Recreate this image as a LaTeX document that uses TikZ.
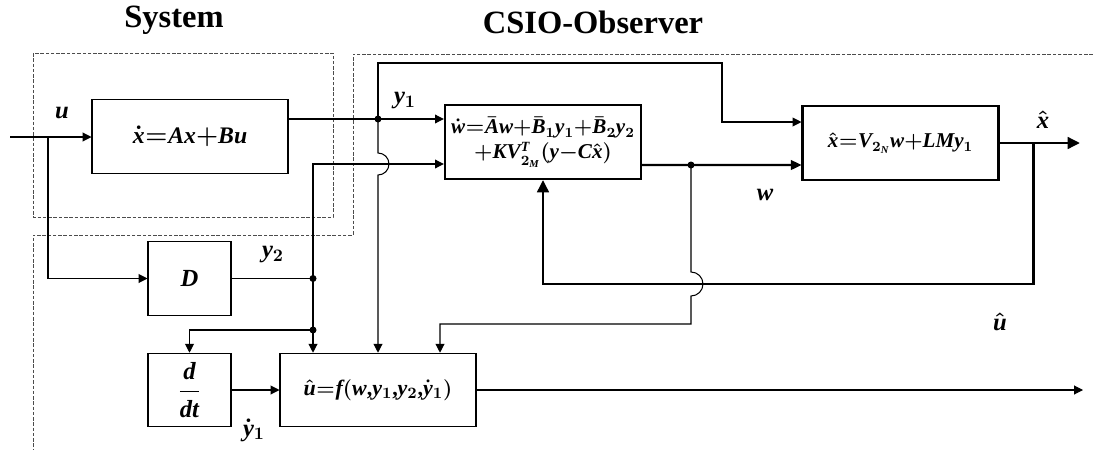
\documentclass[tikz,border=0pt]{standalone}
\usepackage{amsmath}
\usepackage{fontspec}
\setmainfont{Liberation Serif}
\newfontfamily\tnrfont{Liberation Serif}[NFSSFamily=tnr]
\DeclareSymbolFont{letters}{TU}{tnr}{bx}{it}
\DeclareMathSymbol{,}{\mathpunct}{operators}{"2C}
\usetikzlibrary{arrows.meta, positioning, calc}
\newcommand{\tightmath}{\medmuskip=0mu\thickmuskip=0.5mu\boldmath}
\tikzset{
  blockbox/.style={
    rectangle, draw=black, line width=0.6pt,
    minimum width=3.92cm, minimum height=1.47cm, inner sep=1pt,
    text centered, font=\fontsize{#1}{#1}\selectfont\tightmath
  },
  blockbox/.default=13.5,
  smallbox/.style={
    rectangle, draw=black, line width=0.6pt,
    minimum width=1.66cm, minimum height=1.47cm,
    text centered, font=\fontsize{14}{15}\selectfont\tightmath
  },
  heavyframe/.style={line width=#1},
  sigline/.style={line width=0.6pt},
  sigarrow/.style={-{Triangle[length=5pt,width=5pt]}, line width=0.6pt},
  wline/.style={-{Triangle[length=6pt,width=5.5pt]}, line width=1.2pt},
  fbarrow/.style={-{Triangle[length=7pt,width=6.5pt]}, line width=1.7pt},
  regionline/.style={dash pattern=on 2pt off 1pt, line width=0.5pt, gray!60!black},
  sigdot/.style={circle, fill=black, inner sep=0pt, minimum size=0.14cm},
  siglabel/.style={inner sep=1pt, font=\fontsize{14}{16}\selectfont\tightmath},
  headline/.style={font=\fontsize{18.5}{22}\selectfont\bfseries},
}
\begin{document}
\begin{tikzpicture}[x=0.02cm, y=-0.02cm]
  \useasboundingbox (0,0) rectangle (1093,450);
  % dashed regions
  \draw[regionline] (33,53) rectangle (333,217);
  \draw[regionline] (1093,54) -- (353,54) -- (353,235) -- (33,235) -- (33,450);
  \node[headline] (systitle) at (174,20) {System};
  \node[headline] (obstitle) at (593,22) {CSIO-Observer};
  % blocks
  \node[blockbox=13.5] (sys) at (190,136.5) {$\dot{x}=Ax+Bu$};
  \node[blockbox=12, heavyframe=1.4pt, align=center] (obs) at (543,142)
       {$\dot{w}=\bar{A}w+\bar{B}_1y_1+\bar{B}_2y_2$\\[1pt]
        $+KV_{2_M}^T(y-C\hat{x})$};
  \node[blockbox=12, heavyframe=1.2pt] (est) at (900.5,143) {$\hat{x}=V_{2_N}w+LMy_1$};
  \node[smallbox] (dmat) at (189.5,278.5) {$D$};
  \node[smallbox] (ddt)  at (189.5,390) {$\dfrac{d}{dt}$};
  \node[blockbox=12.5] (ctrl) at (378,390) {$\hat{u}=f(w{,}y_1{,}y_2{,}\dot{y}_1)$};
  % branch points
  \node[sigdot] (y1dot)  at (378,119) {};
  \node[sigdot] (y2dot)  at (313,278.5) {};
  \node[sigdot] (y2dotb) at (313,330) {};
  \node[sigdot] (wdot)   at (691,165) {};
  \coordinate (uin)   at (10,137);
  \coordinate (ubr)   at (48,137);
  \coordinate (ytop)  at (722,63);
  \coordinate (jump1) at (378,153);
  \coordinate (jump2) at (691,272);
  \coordinate (wturn) at (691,324);
  \coordinate (wdrop) at (440,324);
  \coordinate (xbr)   at (1033,143);
  \coordinate (xout)  at (1080,143);
  \coordinate (fbk)   at (1033,284);
  \coordinate (uout)  at (1083,390);
  % system and measurements
  \draw[sigarrow] (uin) -- (sys.west |- uin);
  \draw[sigarrow] (ubr) |- (dmat.west);
  \draw[sigline]  (sys.east |- y1dot) -- (y1dot.center);
  \draw[sigarrow] (y1dot.center) -- (obs.west |- y1dot);
  \draw[sigarrow] (y1dot.center) |- (ytop) |- ([yshift=0.42cm]est.west);
  \draw[sigarrow] (y1dot.center) -- (jump1)
        arc[start angle=90, end angle=-90, radius=0.22cm] -- (ctrl.north);
  \draw[sigline]  (dmat.east) -- (y2dot.center);
  \draw[sigarrow] (y2dot.center) |- ([yshift=-0.44cm]obs.west);
  \draw[sigline]  (y2dot.center) -- (y2dotb.center);
  \draw[sigarrow] (y2dotb.center) -| (ddt.north);
  \draw[sigarrow] (y2dotb.center) -- (y2dotb |- ctrl.north);
  \draw[sigarrow] (ddt) -- (ctrl);
  \draw[sigarrow] (ctrl.east) -- (uout);
  % observer
  \draw[wline] ([yshift=-0.46cm]obs.east) -- (est.west |- wdot);
  \draw[sigarrow] (wdot.center) -- (jump2)
        arc[start angle=90, end angle=-90, radius=0.24cm] -- (wturn) -- (wdrop)
        -- (wdrop |- ctrl.north);
  \draw[fbarrow] (est.east) -- (xout);
  \draw[fbarrow] (xbr) -- (fbk) -| (obs.south);
  % labels
  \node[siglabel] (ulbl)  at (62,113)  {$u$};
  \node[siglabel] (y1lbl) at (405,101) {$y_1$};
  \node[siglabel] (y2lbl) at (273,255) {$y_2$};
  \node[siglabel] (wlbl)  at (765,195) {$w$};
  \node[siglabel] (xlbl)  at (1043,120) {$\hat{x}$};
  \node[siglabel] (uhlbl) at (1000,322) {$\hat{u}$};
  \node[siglabel] (ydlbl) at (254,430) {$\dot{y}_1$};
\end{tikzpicture}
\end{document}
